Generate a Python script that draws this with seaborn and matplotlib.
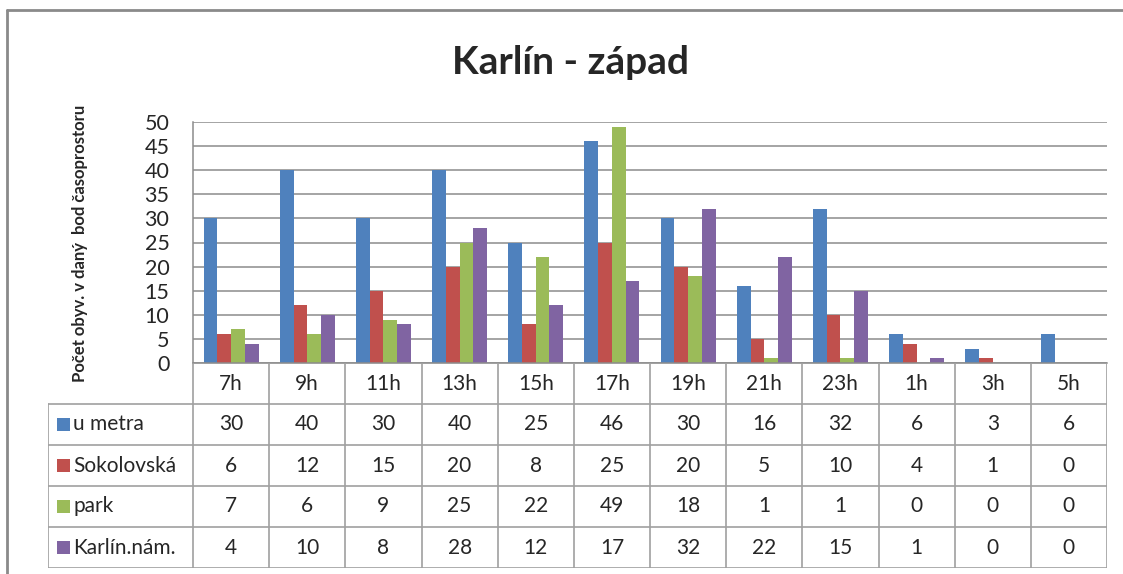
import matplotlib
matplotlib.use("Agg")
import matplotlib.pyplot as plt
import seaborn as sns
import pandas as pd
from matplotlib.lines import Line2D
from matplotlib.patches import Rectangle

# ---- data ----
times = ["7h", "9h", "11h", "13h", "15h", "17h", "19h", "21h", "23h", "1h", "3h", "5h"]
series_names = ["u metra", "Sokolovská", "park", "Karlín.nám."]
u_metra = [30, 40, 30, 40, 25, 46, 30, 16, 32, 6, 3, 6]
sokolovska = [6, 12, 15, 20, 8, 25, 20, 5, 10, 4, 1, 0]
park = [7, 6, 9, 25, 22, 49, 18, 1, 1, 0, 0, 0]
karlin_nam = [4, 10, 8, 28, 12, 17, 32, 22, 15, 1, 0, 0]
y_ticks = [0, 5, 10, 15, 20, 25, 30, 35, 40, 45, 50]
title = "Karlín - západ"
ylabel = "Počet obyv. v daný  bod časoprostoru"

colors = ["#4F81BD", "#C0504D", "#9BBB59", "#8064A2"]
all_series = [u_metra, sokolovska, park, karlin_nam]

rows = []
for name, vals in zip(series_names, all_series):
    for t, v in zip(times, vals):
        rows.append({"time": t, "location": name, "value": v})
df = pd.DataFrame(rows)

sns.set_style("white")
plt.rcParams["font.family"] = ["Lato", "DejaVu Sans"]

W, H = 1123, 574
fig = plt.figure(figsize=(W / 100, H / 100), dpi=100)

def fx(px):
    return px / W

def fy(py):
    return 1 - py / H

grid_col = "#8c8c8c"
tab_col = "#a0a0a0"

# main plot area
pl, pr, pt, pb = 193, 1107, 122, 363
ax = fig.add_axes([fx(pl), fy(pb), fx(pr - pl), fy(pt) - fy(pb)])
sns.barplot(data=df, x="time", y="value", hue="location", order=times,
            hue_order=series_names, palette=colors, width=0.72,
            saturation=1, ax=ax, legend=False, errorbar=None)
ax.set_xlim(-0.5, len(times) - 0.5)
ax.set_ylim(0, 50)
ax.set_yticks(y_ticks)
ax.set_yticklabels([str(v) for v in y_ticks], fontsize=15.5)
ax.tick_params(axis="y", length=0, pad=17)
ax.set_xticks([])
ax.set_xlabel("")
ax.set_ylabel("")
ax.set_axisbelow(True)
ax.yaxis.grid(True, color=grid_col, lw=1.1)
for s in ["top", "right"]:
    ax.spines[s].set_visible(False)
for s in ["left", "bottom"]:
    ax.spines[s].set_color(grid_col)
    ax.spines[s].set_linewidth(1.1)
for p in ax.patches:
    p.set_edgecolor("none")

# data table
tl, tt, tb = 48, 363, 568
cat_w = (pr - pl) / len(times)
leg_w = (pl - tl) / cat_w
tax = fig.add_axes([fx(tl), fy(tb), fx(pr - tl), fy(tt) - fy(tb)])
tax.set_xlim(-0.5 - leg_w, len(times) - 0.5)
nrows = len(series_names) + 1
tax.set_ylim(nrows, 0)
tax.axis("off")

# horizontal lines
tax.add_line(Line2D([-0.5, len(times) - 0.5], [0, 0], color=tab_col, lw=1.2))
for r in range(1, nrows + 1):
    tax.add_line(Line2D([-0.5 - leg_w, len(times) - 0.5], [r, r], color=tab_col, lw=1.2))
# vertical lines
for i in range(len(times) + 1):
    tax.add_line(Line2D([i - 0.5, i - 0.5], [0, nrows], color=tab_col, lw=1.2))
tax.add_line(Line2D([-0.5 - leg_w, -0.5 - leg_w], [1, nrows], color=tab_col, lw=1.2))

fs_tab = 15
for i, t in enumerate(times):
    tax.text(i, 0.52, t, ha="center", va="center", fontsize=fs_tab)
sq_w = 13 / cat_w
for r, (name, vals, c) in enumerate(zip(series_names, all_series, colors), start=1):
    x0 = -0.5 - leg_w + 9 / cat_w
    tax.add_patch(Rectangle((x0, r + 0.5 - 0.16), sq_w, 0.32, color=c, lw=0))
    tax.text(x0 + sq_w + 3 / cat_w, r + 0.5, name, ha="left", va="center", fontsize=fs_tab)
    for i, v in enumerate(vals):
        tax.text(i, r + 0.5, str(v), ha="center", va="center", fontsize=fs_tab)

# title and y label
fig.text(fx(570), fy(62), title, ha="center", va="center", fontsize=28, fontweight="bold")
fig.text(fx(80), fy(243), ylabel, ha="center", va="center", rotation=90,
         fontsize=12, fontweight="bold")

# outer chart frame
fig.add_artist(Line2D([fx(7), fx(W + 5)], [fy(10), fy(10)], color="#8a8a8a", lw=2,
                      transform=fig.transFigure))
fig.add_artist(Line2D([fx(7), fx(7)], [fy(10), fy(H + 5)], color="#8a8a8a", lw=2,
                      transform=fig.transFigure))

fig.savefig("out.png", dpi=100)
